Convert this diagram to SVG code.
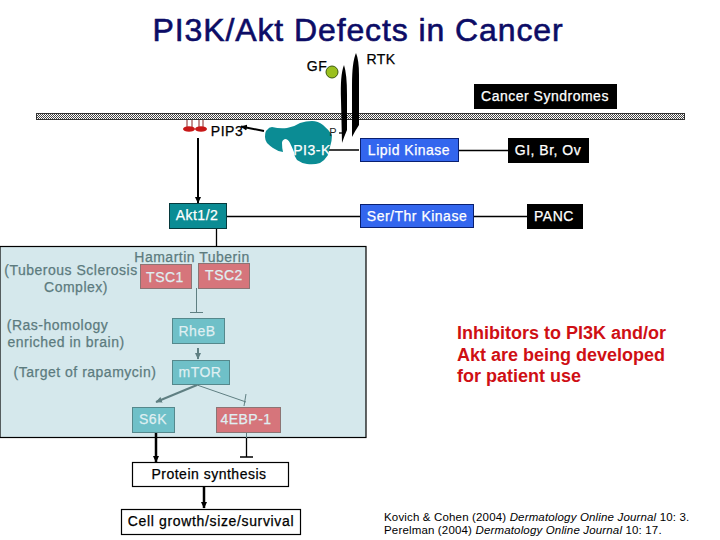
<svg xmlns="http://www.w3.org/2000/svg" width="720" height="540" viewBox="0 0 720 540">
<style>
text{font-family:"Liberation Sans",Arial,sans-serif;font-size:14px;font-weight:400;fill:#000;stroke:#000;stroke-width:.25;text-anchor:middle;letter-spacing:.5px}
.w{fill:#fff;stroke:#fff}
.g{fill:#5c7b7e;stroke:#5c7b7e}
.pl{fill:#dfeff2;stroke:#dfeff2}
.note{font-size:18px;font-weight:700;fill:#cf0f14;stroke:none;text-anchor:start;letter-spacing:0}
.ref{font-size:11.500px;stroke:none;text-anchor:start;letter-spacing:.16px}
.lc{stroke:#000;stroke-width:1.300;fill:none}
.ld{stroke:#5f7f82;stroke-width:1;fill:none}
.teal{fill:#0b8c94;stroke:#06393c;stroke-width:1}
.blue{fill:#3366ee;stroke:#0a2070;stroke-width:1}
.blk{fill:#000}
.tl{fill:#6fc0c8;stroke:#55888c;stroke-width:1}
.rd{fill:#d6757b;stroke:#8c7474;stroke-width:1}
.wb{fill:#fff;stroke:#000;stroke-width:1.200}
</style>
<defs>
<pattern id="m" width="2" height="2" patternUnits="userSpaceOnUse"><rect width="2" height="2" fill="#fff"/><rect width="1" height="1" fill="#444"/><rect x="1" y="1" width="1" height="1" fill="#444"/></pattern>
<marker id="ak" markerUnits="userSpaceOnUse" markerWidth="7" markerHeight="7" refX="6" refY="3.500" orient="auto"><path d="M0 0.500L6.500 3.500L0 6.500Z" fill="#000"/></marker>
<marker id="ag" markerUnits="userSpaceOnUse" markerWidth="7" markerHeight="7" refX="6" refY="3.500" orient="auto"><path d="M0 0.500L6.500 3.500L0 6.500Z" fill="#5f7f82"/></marker>
</defs>
<rect width="720" height="540" fill="#fff"/>
<text id="title" x="358" y="41" style="font-size:32px;fill:#0c0c66;stroke:#0c0c66;stroke-width:.6;letter-spacing:.9px">PI3K/Akt Defects in Cancer</text>
<g id="membrane"><rect x="36.500" y="113.500" width="648" height="6" fill="url(#m)" stroke="#333" stroke-width="1"/></g>
<g id="panel"><rect x="0" y="246.500" width="366" height="191" fill="#d5e8ec" stroke="#000" stroke-width="1.200"/></g>
<g id="connectors">
<path class="lc" d="M329 150H359M227 216.500H361M459 150.500H508M473 216.500H527M216.500 229V246.500"/>
<path d="M198 138V203" stroke="#000" stroke-width="2" marker-end="url(#ak)"/>
<path d="M264 131L241 126.500" stroke="#000" stroke-width="2" marker-end="url(#ak)"/>
<path class="ld" d="M196.500 288V312M190 312.500H203"/>
<path d="M198 348V359" stroke="#5f7f82" stroke-width="2" marker-end="url(#ag)"/>
<path d="M197 385L156 402" stroke="#5f7f82" stroke-width="2" marker-end="url(#ag)"/>
<path class="ld" d="M197 385L246 402M246 394L244 406"/>
<path d="M156 433V462" stroke="#000" stroke-width="2.500" marker-end="url(#ak)"/>
<path d="M204 487V508" stroke="#000" stroke-width="2.500" marker-end="url(#ak)"/>
<path class="lc" d="M246.500 438V457M240 457H253"/>
<path class="ld" d="M246.500 433V438"/>
<path class="lc" d="M339 133H345"/>
</g>
<g id="receptor">
<path class="blk" d="M344 65Q340 75 341 100L342 143Q344 137 347 130L347 95Q347 74 344 65Z"/>
<path class="blk" d="M356 53Q352 62 352 85L352 137Q355 131 359 125L359 75Q359 60 356 53Z"/>
<text x="381" y="64">RTK</text>
</g>
<g id="gf"><circle cx="332" cy="72" r="6" fill="#9ac01e" stroke="#3c5a10" stroke-width="1"/><text x="317" y="71">GF</text></g>
<g id="pip3">
<path d="M187 120V127M192 120V127M199 120V127M203 120V127" stroke="#8b2222" stroke-width="1" fill="none"/>
<ellipse cx="189" cy="129" rx="6" ry="2.800" fill="#c81818"/><ellipse cx="201" cy="129" rx="6" ry="2.800" fill="#c81818"/>
<text x="227" y="136">PIP3</text>
</g>
<g id="pi3k">
<path d="M265 137Q265 131 267 130Q269 127 272 127Q280 129 287 128Q294 127 300 123Q306 121 312 121Q318 121 323 125Q329 130 332 135Q332 141 330 147Q329 151 328 155Q325 160 320 163Q314 165 307 164Q301 163 297 160Q294 156 294 152Q292 147 290 143Q288 139 285 139Q282 140 282 143Q282 148 283 152Q277 151 273 148Q270 146 267 143Q265 140 265 137Z" fill="#0b8c94"/>
<text x="312" y="155" class="w">PI3-K</text>
<text x="333" y="136" style="font-size:11px;fill:#222;stroke:none;letter-spacing:0">P</text>
</g>
<g id="lipid-kinase"><rect class="blue" x="360.500" y="138.500" width="98" height="23"/><text x="409" y="155" class="w">Lipid Kinase</text></g>
<g id="ser-thr-kinase"><rect class="blue" x="360.500" y="204.500" width="113" height="23"/><text x="417" y="221" class="w">Ser/Thr Kinase</text></g>
<g id="cancer-syndromes"><rect class="blk" x="474" y="84" width="143" height="25"/><text x="545" y="101" class="w">Cancer Syndromes</text></g>
<g id="gi-br-ov"><rect class="blk" x="508" y="138" width="81" height="25"/><text x="548" y="155" class="w">GI, Br, Ov</text></g>
<g id="panc"><rect class="blk" x="527" y="204" width="56" height="25"/><text x="554" y="221" class="w">PANC</text></g>
<g id="akt"><rect class="teal" x="169.500" y="203.500" width="57" height="25"/><text x="197" y="220" class="w">Akt1/2</text></g>
<g id="tsc-labels">
<text x="192" y="262" class="g">Hamartin Tuberin</text>
<text x="71" y="275" class="g">(Tuberous Sclerosis</text>
<text x="76" y="292" class="g">Complex)</text>
<text x="57.500" y="330" class="g">(Ras-homology</text>
<text x="66" y="347" class="g">enriched in brain)</text>
<text x="85" y="377" class="g">(Target of rapamycin)</text>
</g>
<g id="tsc1"><rect class="rd" x="140.500" y="264.500" width="51" height="24"/><text x="165" y="282" class="pl">TSC1</text></g>
<g id="tsc2"><rect class="rd" x="198.500" y="263.500" width="51" height="25"/><text x="224" y="280" class="pl">TSC2</text></g>
<g id="rheb"><rect class="tl" x="172.500" y="318.500" width="52" height="25"/><text x="197" y="336" class="pl">RheB</text></g>
<g id="mtor"><rect class="tl" x="172.500" y="360.500" width="57" height="24"/><text x="200" y="377" class="pl">mTOR</text></g>
<g id="s6k"><rect class="tl" x="132.500" y="407.500" width="42" height="25"/><text x="153" y="424" class="pl">S6K</text></g>
<g id="ebp"><rect class="rd" x="216.500" y="407.500" width="64" height="25"/><text x="246" y="424" class="pl">4EBP-1</text></g>
<g id="protein-synthesis"><rect class="wb" x="132.500" y="462.500" width="156" height="24"/><text x="209" y="479">Protein synthesis</text></g>
<g id="cell-growth"><rect class="wb" x="121.500" y="509.500" width="179" height="25"/><text x="211" y="526" style="letter-spacing:.65px">Cell growth/size/survival</text></g>
<g id="note"><text x="457" y="339" class="note">Inhibitors to PI3K and/or</text><text x="457" y="360.500" class="note">Akt are being developed</text><text x="457" y="382" class="note">for patient use</text></g>
<g id="refs"><text x="384" y="520.500" class="ref">Kovich &amp; Cohen (2004) <tspan font-style="italic">Dermatology Online Journal</tspan> 10: 3.</text><text x="384" y="533.800" class="ref">Perelman (2004) <tspan font-style="italic">Dermatology Online Journal</tspan> 10: 17.</text></g>
</svg>
